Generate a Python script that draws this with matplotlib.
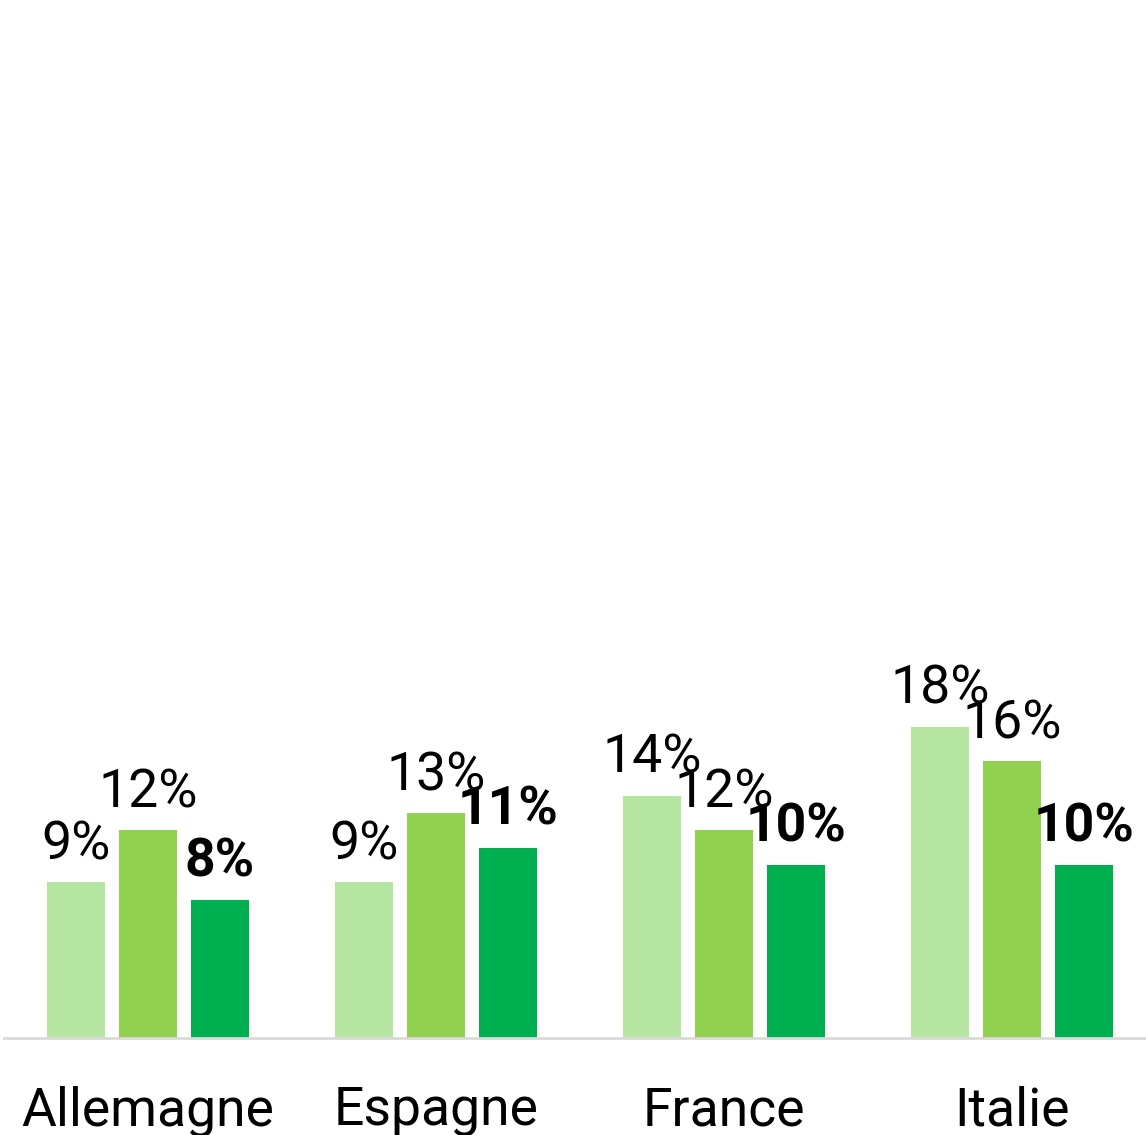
import matplotlib
matplotlib.use("Agg")
import matplotlib.pyplot as plt
from matplotlib.transforms import offset_copy

categories = ["Allemagne", "Espagne", "France", "Italie"]
series_a = [9, 9, 14, 18]
series_b = [12, 13, 12, 16]
series_c = [8, 11, 10, 10]
colors = ["#b5e5a1", "#92d050", "#00b050"]

plt.rcParams['font.family'] = ['Roboto', 'DejaVu Sans']

fig = plt.figure(figsize=(11.46, 11.35), dpi=100)
ax = fig.add_axes([4/1146, 97/1135, 1142/1146, 1038/1135])

offsets = [-0.25, 0.0, 0.25]
width = 0.2014
x = list(range(len(categories)))
for s, (vals, off, col) in enumerate(zip([series_a, series_b, series_c], offsets, colors)):
    xs = [i + off for i in x]
    ax.bar(xs, vals, width=width, color=col, zorder=2)
    tr = offset_copy(ax.transData, fig=fig, x=0, y=23, units='dots')
    for xi, v in zip(xs, vals):
        ax.text(xi, v, f"{v}%", ha='center', va='baseline', transform=tr,
                fontsize=38.5, fontweight='bold' if s == 2 else 'normal', color='black')

ax.set_xlim(-0.5, 3.465)
ax.set_ylim(0, 60)
for sp in ['top', 'right', 'left']:
    ax.spines[sp].set_visible(False)
ax.spines['bottom'].set_color('#d9d9d9')
ax.spines['bottom'].set_linewidth(2)
ax.set_yticks([])
ax.set_xticks(x)
ax.set_xticklabels(categories, fontsize=38.5)
ax.tick_params(axis='x', length=0, pad=34)

fig.savefig("out.png", dpi=100)
